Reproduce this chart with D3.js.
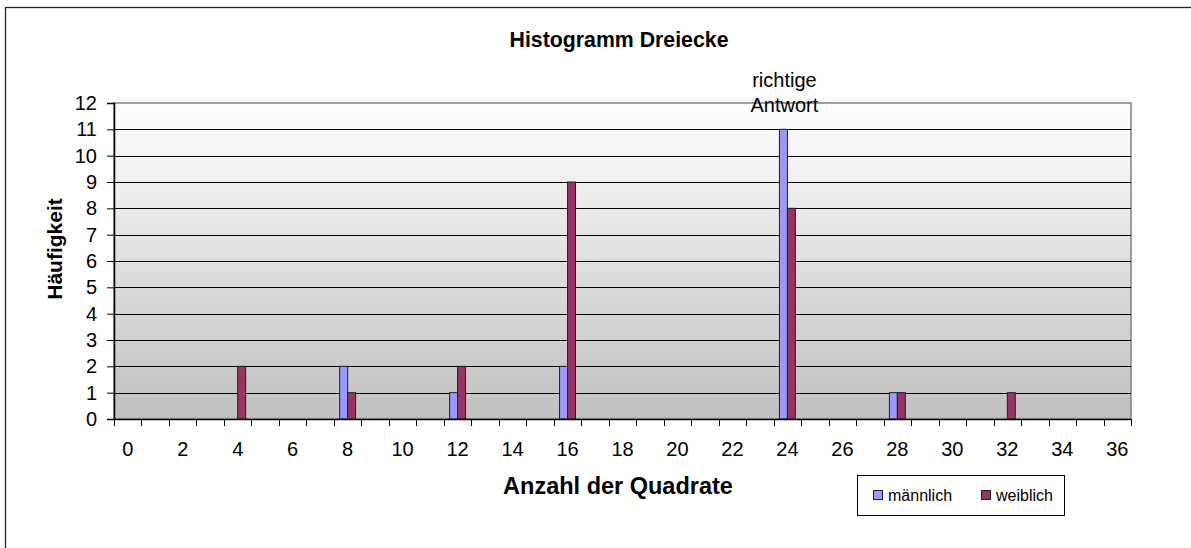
<!DOCTYPE html>
<html>
<head>
<meta charset="utf-8">
<script src="https://cdn.jsdelivr.net/npm/d3@7"></script>
<style>
  body { margin: 0; background: #fff; }
  svg text { font-family: Arial, "Liberation Sans", sans-serif; fill: #000; }
</style>
</head>
<body>
<svg id="chart" width="1191" height="548"></svg>
<script>
// categories on the x axis (Anzahl der Quadrate)
var categories = [0, 1, 2, 3, 4, 5, 6, 7, 8, 9, 10, 11, 12, 13, 14, 15, 16, 17, 18,
                  19, 20, 21, 22, 23, 24, 25, 26, 27, 28, 29, 30, 31, 32, 33, 34, 35, 36];
// frequencies per category
var maennlich = [0, 0, 0, 0, 0, 0, 0, 0, 2, 0, 0, 0, 1, 0, 0, 0, 2, 0, 0,
                 0, 0, 0, 0, 0, 11, 0, 0, 0, 1, 0, 0, 0, 0, 0, 0, 0, 0];
var weiblich  = [0, 0, 0, 0, 2, 0, 0, 0, 1, 0, 0, 0, 2, 0, 0, 0, 9, 0, 0,
                 0, 0, 0, 0, 0, 8, 0, 0, 0, 1, 0, 0, 0, 1, 0, 0, 0, 0];
var seriesNames = ["männlich", "weiblich"];
var seriesColors = ["#9999ff", "#993366"];
var yTicks = [0, 1, 2, 3, 4, 5, 6, 7, 8, 9, 10, 11, 12];
var xTickLabels = [0, 2, 4, 6, 8, 10, 12, 14, 16, 18, 20, 22, 24, 26, 28, 30, 32, 34, 36];

var svg = d3.select("#chart");

// outer frame (right and bottom edge are cut off in the picture)
svg.append("rect")
    .attr("x", 5.5).attr("y", 7.5)
    .attr("width", 1200).attr("height", 600)
    .attr("fill", "#fff")
    .attr("stroke", "#222")
    .attr("stroke-width", 1.3);

var plotLeft = 114, plotRight = 1131, plotTop = 103, plotBottom = 419;

var x = d3.scaleBand().domain(categories).range([plotLeft, plotRight]).padding(0);
var xInner = d3.scaleBand().domain(seriesNames)
    .range([x.bandwidth() * 0.21, x.bandwidth() * 0.79]);
var y = d3.scaleLinear().domain([0, 12]).range([plotBottom, plotTop]);

// plot area background gradient
var defs = svg.append("defs");
var grad = defs.append("linearGradient")
    .attr("id", "bg").attr("x1", 0).attr("x2", 0).attr("y1", 0).attr("y2", 1);
grad.append("stop").attr("offset", "0%").attr("stop-color", "#ffffff");
grad.append("stop").attr("offset", "100%").attr("stop-color", "#c0c0c0");

svg.append("rect")
    .attr("x", plotLeft).attr("y", plotTop)
    .attr("width", plotRight - plotLeft).attr("height", plotBottom - plotTop)
    .attr("fill", "url(#bg)")
    .attr("stroke", "#808080")
    .attr("stroke-width", 1.5);

// gridlines
svg.append("g")
    .selectAll("line")
    .data(yTicks.filter(function (d) { return d > 0 && d < 12; }))
    .enter()
    .append("line")
    .attr("x1", plotLeft).attr("x2", plotRight)
    .attr("y1", function (d) { return Math.round(y(d)) + 0.5; })
    .attr("y2", function (d) { return Math.round(y(d)) + 0.5; })
    .attr("stroke", "#000")
    .attr("stroke-width", 1);

// bars
var rows = categories.map(function (c, i) {
    return { cat: c, values: [maennlich[i], weiblich[i]] };
});
var groups = svg.append("g")
    .selectAll("g")
    .data(rows)
    .enter()
    .append("g")
    .attr("transform", function (d) { return "translate(" + x(d.cat) + ",0)"; });
groups.selectAll("rect")
    .data(function (d) {
        return d.values.map(function (v, k) { return { name: seriesNames[k], value: v, color: seriesColors[k] }; })
            .filter(function (e) { return e.value > 0; });
    })
    .enter()
    .append("rect")
    .attr("x", function (d) { return xInner(d.name); })
    .attr("width", xInner.bandwidth())
    .attr("y", function (d) { return y(d.value); })
    .attr("height", function (d) { return y(0) - y(d.value); })
    .attr("fill", function (d) { return d.color; })
    .attr("stroke", "#222")
    .attr("stroke-width", 1);

// y axis
var yAxis = svg.append("g")
    .attr("transform", "translate(" + plotLeft + ",0)")
    .call(d3.axisLeft(y).tickValues(yTicks).tickSize(7).tickPadding(10).tickFormat(d3.format("d")));
yAxis.select(".domain").attr("stroke", "#000").attr("stroke-width", 1.5);
yAxis.selectAll(".tick line").attr("stroke", "#000");
yAxis.selectAll("text").attr("font-size", 20).attr("font-family", "Arial, 'Liberation Sans', sans-serif");

// x axis: ticks on category boundaries, labels on every second category
var xAxis = svg.append("g").attr("transform", "translate(0," + plotBottom + ")");
xAxis.append("line")
    .attr("x1", plotLeft).attr("x2", plotRight)
    .attr("y1", 0.5).attr("y2", 0.5)
    .attr("stroke", "#000").attr("stroke-width", 1.5);
xAxis.selectAll("line.tk")
    .data(categories.concat([categories.length]))
    .enter()
    .append("line")
    .attr("class", "tk")
    .attr("x1", function (d, i) { return Math.round(plotLeft + i * x.step()) + 0.5; })
    .attr("x2", function (d, i) { return Math.round(plotLeft + i * x.step()) + 0.5; })
    .attr("y1", 0).attr("y2", 7)
    .attr("stroke", "#000");
xAxis.selectAll("text")
    .data(xTickLabels)
    .enter()
    .append("text")
    .attr("x", function (d) { return x(d) + x.bandwidth() / 2; })
    .attr("y", 37)
    .attr("text-anchor", "middle")
    .attr("font-size", 20)
    .text(function (d) { return d; });

// titles
svg.append("text")
    .attr("x", 619).attr("y", 47)
    .attr("text-anchor", "middle")
    .attr("font-size", 21.3).attr("font-weight", "bold")
    .text("Histogramm Dreiecke");
svg.append("text")
    .attr("x", 618).attr("y", 494)
    .attr("text-anchor", "middle")
    .attr("font-size", 23.5).attr("font-weight", "bold")
    .text("Anzahl der Quadrate");
svg.append("text")
    .attr("transform", "translate(62,249) rotate(-90)")
    .attr("text-anchor", "middle")
    .attr("font-size", 21).attr("font-weight", "bold")
    .text("Häufigkeit");

// annotation
var ann = svg.append("text")
    .attr("text-anchor", "middle")
    .attr("font-size", 20);
ann.append("tspan").attr("x", x(24) + x.bandwidth() / 2 - 3).attr("y", 87).text("richtige");
ann.append("tspan").attr("x", x(24) + x.bandwidth() / 2 - 3).attr("y", 112).text("Antwort");

// legend
var legend = svg.append("g").attr("transform", "translate(857,475)");
legend.append("rect")
    .attr("x", 0.5).attr("y", 0.5)
    .attr("width", 207).attr("height", 40)
    .attr("fill", "#fff").attr("stroke", "#000");
var items = legend.selectAll("g.item")
    .data(seriesNames)
    .enter()
    .append("g")
    .attr("class", "item")
    .attr("transform", function (d, i) { return "translate(" + (16 + i * 108) + ",0)"; });
items.append("rect")
    .attr("x", 0.5).attr("y", 15.5)
    .attr("width", 9).attr("height", 9)
    .attr("fill", function (d, i) { return seriesColors[i]; })
    .attr("stroke", "#222");
items.append("text")
    .attr("x", 15).attr("y", 26)
    .attr("font-size", 16)
    .text(function (d) { return d; });
</script>
</body>
</html>
